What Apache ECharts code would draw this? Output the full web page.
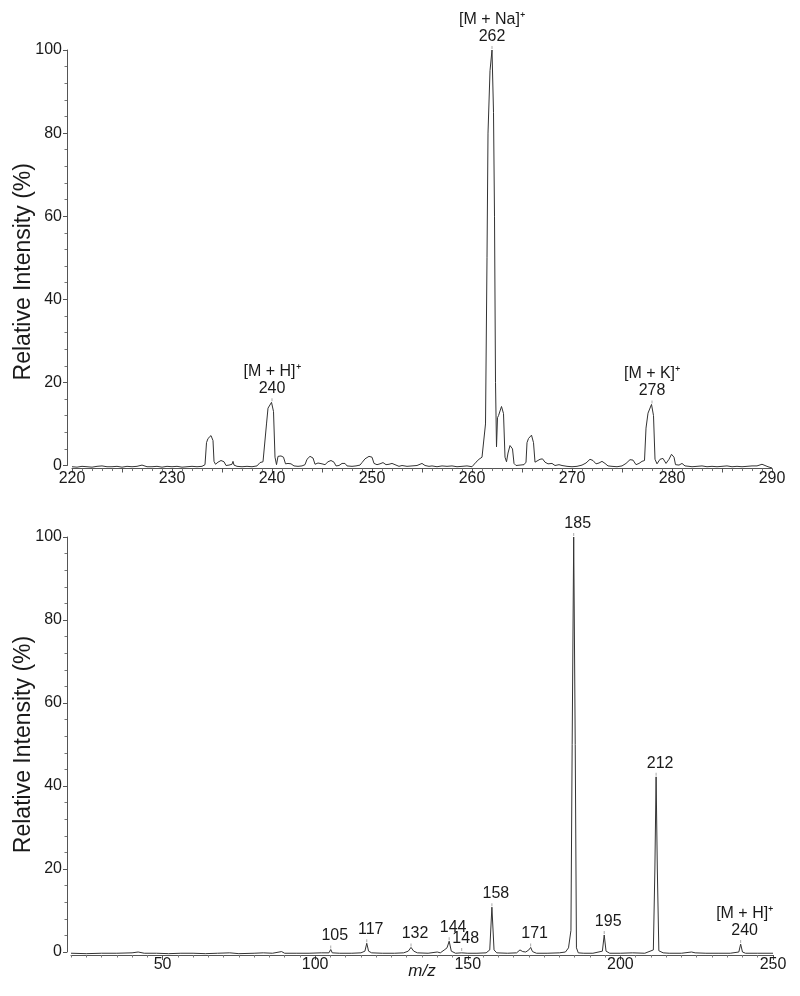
<!DOCTYPE html>
<html><head><meta charset="utf-8">
<script src="https://cdn.jsdelivr.net/npm/echarts@6/dist/echarts.min.js"></script>
<style>html,body{margin:0;padding:0;background:#fff}#c{width:800px;height:996px}</style>
</head><body><div id="c"></div>
<script>
// ---- Top panel: MS spectrum (m/z 220-290) ----
const mzTop = [220.0,220.5,221.0,221.5,222.0,222.5,223.0,223.5,224.0,224.5,225.0,225.5,226.0,226.5,227.0,227.5,228.0,228.5,229.0,229.5,230.0,230.5,231.0,231.5,232.0,232.5,233.0,233.3,233.45,233.6,233.9,234.1,234.2,234.35,234.6,234.9,235.2,235.4,235.7,236.0,236.1,236.2,236.5,237.0,237.5,238.0,238.5,238.8,239.1,239.3,239.45,239.6,239.95,240.15,240.3,240.45,240.6,240.9,241.15,241.35,241.6,241.9,242.2,242.6,243.0,243.3,243.5,243.8,244.1,244.3,244.6,245.0,245.3,245.6,245.9,246.2,246.4,246.7,247.0,247.3,247.5,248.0,248.4,248.8,249.0,249.3,249.7,250.0,250.2,250.5,250.8,251.1,251.4,251.7,252.0,252.3,252.7,253.0,253.5,254.0,254.5,255.0,255.3,255.7,256.0,256.5,257.0,257.5,258.0,258.5,259.0,259.5,260.0,260.2,260.4,260.7,261.0,261.2,261.35,261.5,261.6,261.8,262.0,262.15,262.25,262.35,262.45,262.55,262.65,262.95,263.15,263.3,263.45,263.6,263.8,264.05,264.2,264.4,264.8,265.2,265.4,265.5,265.65,265.95,266.15,266.3,266.5,266.8,267.05,267.3,267.6,268.0,268.3,268.7,269.0,269.5,270.0,270.5,271.0,271.4,271.8,272.1,272.4,272.7,273.0,273.3,273.6,274.0,274.5,275.0,275.4,275.8,276.1,276.4,276.7,277.0,277.25,277.4,277.6,277.95,278.15,278.3,278.5,278.8,279.1,279.4,279.7,279.95,280.2,280.35,280.7,281.0,281.3,281.7,282.0,282.5,283.0,283.5,284.0,284.5,285.0,285.5,286.0,286.5,287.0,287.5,288.0,288.5,289.0,289.3,289.6,290.0];
const intTop = [-0.3,-0.4,-0.2,-0.3,-0.4,-0.2,-0.1,-0.3,-0.3,-0.2,-0.4,-0.2,-0.3,-0.2,0.1,-0.3,-0.3,-0.2,-0.4,-0.2,-0.3,-0.2,-0.4,-0.3,-0.2,-0.3,-0.2,0.2,5.5,6.5,7.2,6.0,1.0,0.3,0.8,1.2,0.9,0.0,0.1,0.3,1.0,0.1,-0.2,-0.3,-0.2,-0.3,-0.1,0.7,0.9,0.6,10.0,13.8,15.2,13.0,2.0,0.2,2.2,2.3,2.0,0.4,0.5,0.4,-0.1,-0.2,-0.1,0.2,1.5,2.2,1.8,0.3,0.6,0.4,0.2,0.9,1.2,0.8,-0.1,0.0,0.5,0.5,-0.1,-0.2,-0.1,0.1,0.7,1.6,2.2,2.0,0.5,0.2,0.4,0.7,0.2,0.3,0.5,0.2,-0.2,0.0,-0.2,-0.1,0.0,0.5,0.0,-0.2,-0.1,-0.3,-0.1,-0.2,-0.1,-0.3,-0.2,-0.1,-0.3,0.0,0.8,1.5,2.0,2.3,10,50,80,95,100,85,60,20,4.5,11.5,12.0,14.2,12.5,2.0,0.9,3.0,4.8,4.0,0.5,0.0,0.1,0.2,0.8,5.5,6.5,7.3,5.5,0.8,0.6,1.5,1.6,0.8,0.4,0.5,0.0,0.2,0.0,-0.2,-0.3,-0.2,0.1,0.6,1.5,1.2,0.4,0.6,1.0,0.5,-0.1,-0.2,-0.3,-0.1,0.5,1.4,1.3,0.2,0.5,1.0,1.2,9.0,12.6,14.7,12.0,1.5,0.4,1.5,1.7,0.5,1.5,2.7,2.0,0.2,0.1,0.5,-0.1,-0.2,-0.3,-0.2,-0.1,-0.3,-0.2,-0.3,-0.2,-0.1,-0.3,-0.2,-0.3,-0.2,-0.1,-0.1,0.3,0.0,-0.3,-0.6];
const peakMzTop = [240, 262, 278];
const peakIntTop = [15.2, 100, 14.7];
const peakIonTop = ['[M + H]⁺', '[M + Na]⁺', '[M + K]⁺'];
const peakTextTop = ['240', '262', '278'];

// ---- Bottom panel: MS/MS spectrum (m/z 20-250) ----
const mzBot = [20,25,30,35,40,42,44,48,52,56,60,64,68,72,75,80,83,86,89,90,94,98,102,104.5,105.1,105.6,108,112,115,116.3,116.9,117.5,118.5,122,126,129,130.5,131.4,132.3,133.5,137,140,141,142.5,143.2,143.9,144.6,146,148,150,153,156,157.2,157.9,158.6,159.5,163,166,167.1,168,169,170,170.6,171.2,172.5,176,180,182,183,183.8,184.2,184.7,185.2,185.6,186.2,188,191,194.1,194.7,195.3,196.5,200,204,208,210.8,211.3,211.7,212.1,212.6,214,216,220,223.3,223.9,224.5,228,232,236,238.8,239.4,240.0,241,245,250];
const intBot = [-0.3,-0.4,-0.3,-0.3,-0.2,0.0,-0.3,-0.3,-0.4,-0.3,-0.3,-0.4,-0.3,-0.2,-0.4,-0.3,-0.2,-0.3,0.1,-0.3,-0.3,-0.3,-0.2,-0.2,0.6,-0.2,-0.3,-0.3,-0.2,0.2,2.1,0.2,-0.2,-0.3,-0.3,-0.2,0.2,1.1,0.2,-0.2,-0.3,0.0,-0.2,0.6,1.0,2.6,0.2,-0.3,-0.2,-0.3,-0.3,-0.2,0.5,10.8,0.5,-0.2,-0.3,-0.2,0.5,0.1,0.0,0.5,1.1,0.1,-0.3,-0.3,-0.2,0.0,1.0,5.2,50,100,50,1.0,-0.2,-0.3,-0.3,0.2,4.1,0.2,-0.3,-0.3,-0.2,-0.3,0.5,20,42.2,20,0.3,-0.2,-0.3,-0.3,0.0,0.3,-0.2,-0.3,-0.3,-0.3,0.0,1.9,0.0,-0.3,-0.3,-0.3];
const peakMzBot = [105.1, 116.9, 131.4, 143.9, 148, 157.9, 170.6, 184.7, 194.7, 211.7, 239.4];
const peakIntBot = [0.6, 2.1, 1.1, 2.6, 0, 10.8, 1.1, 100, 4.1, 42.2, 1.9];
const peakIonBot = ['', '', '', '', '', '', '', '', '', '', '[M + H]⁺'];
const peakTextBot = ['105','117','132','144','148','158','171','185','195','212','240'];

const yTicks = [0, 20, 40, 60, 80, 100];

const FONT = '"Liberation Sans", Arial, Helvetica, sans-serif';
const AX = '#555', TXT = '#1a1a1a';

function zip(a, b) { return a.map((v, i) => [v, b[i]]); }

function yAxisDef(grid, off) {
  return {
    type: 'value', gridIndex: grid, min: yTicks[0], max: yTicks[yTicks.length - 1], interval: 20, offset: off,
    axisLine: { show: true, lineStyle: { color: AX, width: 1 } },
    axisTick: { show: true, length: 4, lineStyle: { color: AX } },
    minorTick: { show: true, splitNumber: 5, length: 2.5, lineStyle: { color: '#777' } },
    splitLine: { show: false },
    axisLabel: { fontSize: 16, color: TXT, margin: 5, fontFamily: FONT },
    name: 'Relative Intensity (%)', nameLocation: 'middle', nameGap: 32, nameMoveOverlap: false,
    nameTextStyle: { fontSize: 23, color: TXT, fontFamily: FONT, padding: grid === 0 ? [0, 28, 0, 0] : 0 }
  };
}

function labelSeries(xi, yi, mz, inten, ion, txt, dx) {
  return {
    type: 'scatter', xAxisIndex: xi, yAxisIndex: yi, data: zip(mz, inten),
    symbol: 'rect', symbolSize: [1, 3], symbolOffset: [0, -2.5],
    itemStyle: { color: '#aaa', opacity: 1 }, silent: true, clip: false, z: 5,
    label: {
      show: true, position: 'top', distance: 1, offset: [dx, 0], opacity: 1,
      fontFamily: FONT, fontSize: 16, color: TXT, lineHeight: 17, align: 'center',
      formatter: p => (ion[p.dataIndex] ? ion[p.dataIndex] + '\n' : '') + txt[p.dataIndex]
    }
  };
}

const chart = echarts.init(document.getElementById('c'), null, { renderer: 'canvas' });
chart.setOption({
  animation: false,
  backgroundColor: '#fff',
  textStyle: { fontFamily: FONT },
  grid: [
    { left: 72, right: 28, top: 50, bottom: 530.5 },
    { left: 71, right: 27, top: 537, bottom: 44 }
  ],
  xAxis: [
    {
      type: 'value', gridIndex: 0, min: 220, max: 290, interval: 5, offset: 3,
      axisLine: { show: true, onZero: false, lineStyle: { color: AX, width: 1 } },
      axisTick: { show: true, length: 4, lineStyle: { color: AX } },
      minorTick: { show: true, splitNumber: 5, length: 2.5, lineStyle: { color: '#777' } },
      splitLine: { show: false },
      axisLabel: { fontSize: 16, color: TXT, margin: 2, fontFamily: FONT, formatter: v => (v % 10 === 0 ? String(v) : '') }
    },
    {
      type: 'value', gridIndex: 1, min: 20, max: 250, interval: 5, offset: 3,
      axisLine: { show: true, onZero: false, lineStyle: { color: AX, width: 1 } },
      axisTick: { show: true, length: 2.5, lineStyle: { color: '#777' } },
      splitLine: { show: false },
      axisLabel: { show: false }
    },
    {
      type: 'value', gridIndex: 1, min: 20, max: 250, offset: 3, position: 'bottom',
      axisLine: { show: false, onZero: false },
      axisTick: { show: true, length: 5, lineStyle: { color: AX } },
      splitLine: { show: false },
      axisLabel: { fontSize: 16, color: TXT, margin: 2, fontFamily: FONT, showMinLabel: false },
      name: 'm/z', nameLocation: 'middle', nameGap: 8, nameMoveOverlap: false,
      nameTextStyle: { fontSize: 17, fontStyle: 'italic', color: TXT, fontFamily: FONT }
    }
  ],
  yAxis: [yAxisDef(0, 5), yAxisDef(1, 4)],
  series: [
    {
      type: 'line', xAxisIndex: 0, yAxisIndex: 0, data: zip(mzTop, intTop),
      showSymbol: false, symbol: 'none', clip: false,
      lineStyle: { color: '#333', width: 1 }
    },
    {
      type: 'line', xAxisIndex: 1, yAxisIndex: 1, data: zip(mzBot, intBot),
      showSymbol: false, symbol: 'none', clip: false,
      lineStyle: { color: '#333', width: 1 }
    },
    labelSeries(0, 0, peakMzTop, peakIntTop, peakIonTop, peakTextTop, 0),
    labelSeries(1, 1, peakMzBot, peakIntBot, peakIonBot, peakTextBot, 4)
  ]
});
</script>
</body></html>
